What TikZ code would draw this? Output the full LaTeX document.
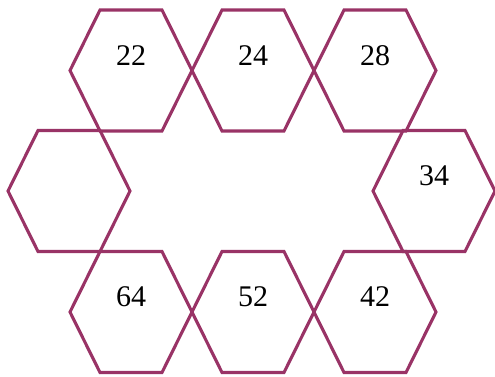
\documentclass[tikz,border=0pt]{standalone}
\usepackage{fontspec}
\setmainfont{Liberation Serif}
\usepackage{tikz}
\usetikzlibrary{positioning}

\definecolor{hexpurple}{RGB}{153,51,102}

% one hexagon cell around a centre coordinate
\newcommand{\hexcell}[1]{%
  \draw[hex] (#1) ++(-61,0) -- ++(30,-60.5) -- ++(62,0) -- ++(30,60.5)
    -- ++(-30,60.5) -- ++(-62,0) -- cycle;}

\begin{document}
\begin{tikzpicture}[x=1pt, y=-1pt,
    hex/.style={draw=hexpurple, line width=3.1pt, line join=miter},
    num/.style={font=\fontsize{30}{32}\selectfont, inner sep=0pt}]

  \useasboundingbox (0,0) rectangle (495,376);

  % centres of the cells
  \coordinate (c22) at (131,70.5);
  \coordinate (c24) at (253,70.5);
  \coordinate (c28) at (375,70.5);
  \coordinate (cL)  at (69,191);
  \coordinate (c34) at (434,191);
  \coordinate (c64) at (131,312);
  \coordinate (c52) at (253,312);
  \coordinate (c42) at (375,312);

  % draw the ring of hexagons
  \hexcell{c22}
  \hexcell{c24}
  \hexcell{c28}
  \hexcell{cL}
  \hexcell{c34}
  \hexcell{c64}
  \hexcell{c52}
  \hexcell{c42}

  % numbers, a little above the centres
  \node[num] (n22) at ([yshift=15]c22) {22};
  \node[num] (n24) at ([yshift=15]c24) {24};
  \node[num] (n28) at ([yshift=15]c28) {28};
  \node[num] (n34) at ([yshift=15]c34) {34};
  \node[num] (n64) at ([yshift=15]c64) {64};
  \node[num] (n52) at ([yshift=15]c52) {52};
  \node[num] (n42) at ([yshift=15]c42) {42};

\end{tikzpicture}
\end{document}
